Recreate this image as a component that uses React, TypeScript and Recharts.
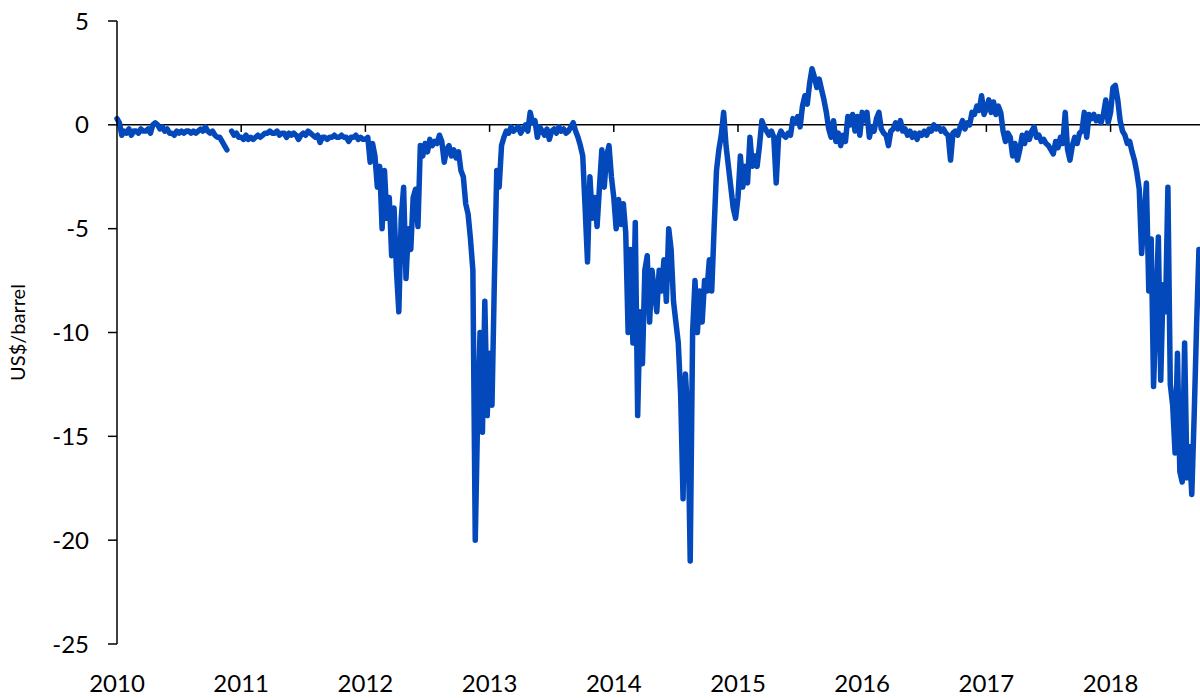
import React from 'react';
import { LineChart, Line, XAxis, YAxis, ReferenceLine } from 'recharts';

// weekly spread, US$/barrel (52 readings per year)
const v2010 = [
  0.3, 0.1, -0.5, -0.3, -0.4, -0.2, -0.5, -0.3, -0.3, -0.4,
  -0.2, -0.3, -0.3, -0.2, -0.4, 0.0, 0.1, 0.0, -0.2, -0.1,
  -0.3, -0.2, -0.4, -0.4, -0.5, -0.3, -0.4, -0.3, -0.4, -0.3,
  -0.3, -0.4, -0.3, -0.4, -0.3, -0.2, -0.3, -0.1, -0.3, -0.4,
  -0.3, -0.5, -0.6, -0.6, -0.8, -1.0, -1.2, null, -0.3, -0.5,
  -0.4, -0.6,
];
const v2011 = [
  -0.6, -0.7, -0.5, -0.7, -0.6, -0.7, -0.6, -0.5, -0.6, -0.5,
  -0.4, -0.4, -0.3, -0.4, -0.4, -0.3, -0.5, -0.4, -0.4, -0.6,
  -0.4, -0.5, -0.4, -0.5, -0.7, -0.5, -0.4, -0.5, -0.3, -0.4,
  -0.5, -0.6, -0.5, -0.85, -0.6, -0.6, -0.7, -0.6, -0.6, -0.5,
  -0.6, -0.6, -0.5, -0.6, -0.6, -0.8, -0.6, -0.6, -0.5, -0.7,
  -0.6, -0.7,
];
const v2012 = [
  -0.7, -0.6, -1.8, -0.9, -1.5, -3.0, -2.0, -5.0, -2.2, -4.5,
  -3.5, -6.3, -4.0, -7.0, -9.0, -4.5, -3.0, -7.4, -5.0, -6.0,
  -3.5, -3.1, -4.9, -1.0, -1.5, -0.9, -1.3, -0.7, -1.0, -0.8,
  -0.9, -0.5, -0.8, -1.8, -1.2, -1.0, -1.5, -1.2, -1.6, -1.3,
  -2.2, -2.5, -3.8, -4.3, -5.5, -7.0, -20.0, -14.0, -10.0, -14.8,
  -8.5, -14.0,
];
const v2013 = [
  -11.0, -13.5, -7.5, -2.2, -3.0, -1.0, -0.6, -0.3, -0.4, -0.1,
  -0.3, -0.2, -0.1, -0.4, -0.2, 0.0, -0.3, 0.6, 0.1, 0.2,
  -0.6, -0.1, -0.3, -0.5, -0.2, -0.7, -0.3, -0.2, -0.4, -0.1,
  -0.3, -0.2, -0.4, -0.3, -0.1, 0.1, -0.3, -0.6, -1.0, -1.5,
  -4.0, -6.6, -2.5, -4.5, -3.5, -4.9, -3.0, -1.2, -3.0, -1.5,
  -1.0, -2.5,
];
const v2014 = [
  -3.5, -5.0, -3.6, -4.8, -3.8, -5.2, -10.0, -6.0, -10.5, -4.7,
  -14.0, -9.0, -11.5, -7.0, -6.3, -9.5, -7.0, -8.0, -9.0, -7.0,
  -8.0, -6.5, -8.5, -5.0, -6.0, -8.5, -9.5, -10.5, -13.0, -18.0,
  -12.0, -14.0, -21.0, -10.0, -7.5, -10.0, -8.0, -9.5, -7.5, -8.0,
  -6.5, -8.0, -5.0, -2.2, -1.2, -0.5, 0.6, -1.0, -2.0, -3.0,
  -4.0, -4.5,
];
const v2015 = [
  -3.5, -1.5, -3.0, -2.0, -2.8, -0.6, -2.0, -1.5, -2.0, -1.0,
  0.2, -0.1, -0.3, -0.5, -0.3, -0.6, -2.8, -0.6, -0.3, -0.5,
  -0.6, -0.4, -0.5, 0.3, 0.1, 0.4, -0.1, 0.9, 1.4, 1.0,
  2.0, 2.7, 2.3, 1.8, 2.2, 1.7, 1.2, 0.6, -0.2, -0.6,
  0.2, -0.8, -0.4, -1.0, -0.5, -0.8, 0.4, 0.0, 0.5, -0.3,
  0.4, -0.5,
];
const v2016 = [
  0.6, 0.2, 0.6, -0.6, -0.1, -0.3, 0.3, 0.6, -0.2, -0.4,
  -0.5, -1.0, -0.3, -0.2, 0.1, -0.2, 0.2, -0.3, -0.2, -0.5,
  -0.3, -0.6, -0.4, -0.7, -0.4, -0.5, -0.3, -0.5, -0.2, -0.3,
  0.0, -0.2, -0.1, -0.3, -0.2, -0.4, -0.5, -1.7, -0.4, -0.3,
  -0.5, -0.1, 0.2, -0.2, 0.1, 0.0, 0.6, 0.5, 0.9, 0.7,
  1.4, 0.5,
];
const v2017 = [
  0.8, 1.2, 0.6, 1.1, 0.5, 0.9, 0.6, -0.3, -0.8, -0.4,
  -0.6, -1.5, -0.9, -1.7, -1.2, -0.5, -0.9, -0.4, -0.7, -0.3,
  -0.1, -0.6, -0.5, -0.8, -0.7, -0.9, -1.0, -1.2, -1.4, -0.8,
  -1.1, -0.6, -0.9, 0.6, -1.2, -1.7, -1.0, -0.6, -0.9, -0.4,
  -0.3, 0.6, -0.6, 0.5, 0.3, 0.5, 0.2, 0.4, 0.1, 0.5,
  1.2, 0.1,
];
const v2018 = [
  0.6, 1.8, 1.9, 1.2, 0.2, -0.3, -0.5, -0.9, -0.8, -1.3,
  -1.7, -2.3, -3.1, -6.2, -4.5, -2.8, -8.0, -5.5, -12.6, -9.0,
  -5.4, -12.3, -7.7, -9.0, -3.0, -12.5, -13.5, -15.8, -11.0, -16.7,
  -17.2, -10.5, -17.0, -15.5, -17.8, -14.0, -9.7, -6.0,
];

const years = [2010, 2011, 2012, 2013, 2014, 2015, 2016, 2017, 2018];
const zeroLineTicks = [2011, 2012, 2013, 2014, 2015, 2016, 2017, 2018];
const yTicks = [-25, -20, -15, -10, -5, 0, 5];

const series = [...v2010, ...v2011, ...v2012, ...v2013, ...v2014, ...v2015, ...v2016, ...v2017, ...v2018];
const data = series.map((v, i) => ({ t: 2010 + i / 52, v }));

const FONT = 'Lato, "Open Sans", sans-serif';
const BLUE = '#0349BB';

export default function App() {
  return (
    <div style={{ position: 'absolute', left: 0, top: 0, width: 1200, height: 698, background: '#fff', fontFamily: FONT }}>
      <LineChart width={1200} height={698} data={data} margin={{ top: 21, right: 0, bottom: 0, left: 0 }}>
        <XAxis
          dataKey="t"
          type="number"
          domain={[2010, 2018.72]}
          ticks={years}
          interval={0}
          axisLine={false}
          tickLine={false}
          tickSize={0}
          tickMargin={31}
          height={54}
          tickFormatter={(t: number) => String(t)}
          tick={{ fill: '#000', fontSize: 24, fontFamily: FONT }}
        />
        <YAxis
          type="number"
          domain={[-25, 5]}
          ticks={yTicks}
          interval={0}
          width={117}
          tickSize={9}
          tickMargin={19}
          axisLine={{ stroke: '#000', strokeWidth: 1.5 }}
          tickLine={{ stroke: '#000', strokeWidth: 1.5 }}
          tick={{ fill: '#000', fontSize: 24, fontFamily: FONT }}
          label={{ value: 'US$/barrel', angle: -90, position: 'insideLeft', offset: 18, style: { textAnchor: 'middle', fill: '#000', fontSize: 20, fontFamily: FONT } }}
        />
        <ReferenceLine y={0} stroke="#000" strokeWidth={1.5} zIndex={100} />
        {zeroLineTicks.map((yr) => (
          <ReferenceLine
            key={yr}
            segment={[{ x: yr, y: 0 }, { x: yr, y: -0.34 }]}
            stroke="#000"
            strokeWidth={1.5}
            zIndex={100}
          />
        ))}
        <Line
          type="linear"
          dataKey="v"
          stroke={BLUE}
          strokeWidth={5.5}
          strokeLinejoin="round"
          strokeLinecap="round"
          dot={false}
          activeDot={false}
          isAnimationActive={false}
        />
      </LineChart>
    </div>
  );
}
